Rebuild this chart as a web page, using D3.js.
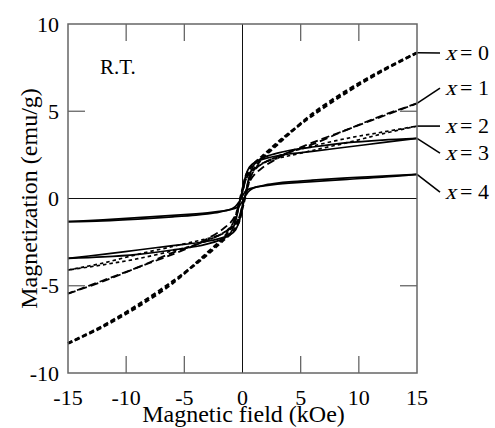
<html>
<head>
<meta charset="utf-8">
<script src="https://cdn.jsdelivr.net/npm/d3@7"></script>
</head>
<body style="margin:0;background:#fff">
<svg id="chart" width="495" height="428"></svg>
<script>
// field values (kOe) shared by every branch
const fieldKOe = [-15, -12, -9, -6, -4, -3, -2, -1.5, -1, -0.6, -0.3, 0, 0.3, 0.6, 1, 1.5, 2, 3, 4, 6, 9, 12, 15];

// magnetization (emu/g), ascending branch (field going up) and descending branch
const magX0Up   = [-8.3, -7.3, -6.1, -4.75, -3.75, -3.2, -2.6, -2.3, -2.0, -1.7, -1.3, -0.5, 0.3, 1.1, 1.7, 2.15, 2.5, 3.1, 3.7, 4.85, 6.2, 7.35, 8.35];
const magX0Down = [-8.3, -7.35, -6.2, -4.85, -3.7, -3.1, -2.5, -2.15, -1.7, -1.1, -0.3, 0.5, 1.3, 1.7, 2.0, 2.3, 2.6, 3.2, 3.75, 4.75, 6.1, 7.3, 8.35];
const magX1Up   = [-5.45, -4.75, -3.95, -3.1, -2.65, -2.4, -2.1, -1.9, -1.7, -1.45, -1.1, -0.4, 0.3, 0.95, 1.35, 1.65, 1.9, 2.3, 2.65, 3.2, 3.95, 4.7, 5.45];
const magX1Down = [-5.45, -4.7, -3.95, -3.2, -2.65, -2.3, -1.9, -1.65, -1.35, -0.95, -0.3, 0.4, 1.1, 1.45, 1.7, 1.9, 2.1, 2.4, 2.65, 3.1, 3.95, 4.75, 5.45];
const magX2Up   = [-4.1, -3.7, -3.2, -2.75, -2.45, -2.3, -2.1, -1.95, -1.75, -1.5, -1.1, -0.4, 0.35, 1.1, 1.6, 1.9, 2.1, 2.4, 2.65, 3.0, 3.45, 3.8, 4.15];
const magX2Down = [-4.1, -3.8, -3.45, -3.0, -2.65, -2.4, -2.1, -1.9, -1.6, -1.1, -0.35, 0.4, 1.1, 1.5, 1.75, 1.95, 2.1, 2.3, 2.45, 2.75, 3.2, 3.7, 4.15];
const magX3Up   = [-3.43, -3.2, -2.95, -2.7, -2.55, -2.45, -2.3, -2.2, -2.05, -1.8, -1.35, -0.5, 0.4, 1.3, 1.95, 2.25, 2.4, 2.6, 2.75, 2.95, 3.2, 3.35, 3.45];
const magX3Down = [-3.43, -3.35, -3.2, -2.95, -2.75, -2.6, -2.4, -2.25, -1.95, -1.3, -0.4, 0.5, 1.35, 1.8, 2.05, 2.2, 2.3, 2.45, 2.55, 2.7, 2.95, 3.2, 3.45];
const magX4Up   = [-1.33, -1.22, -1.1, -0.97, -0.88, -0.82, -0.74, -0.69, -0.62, -0.55, -0.45, -0.15, 0.2, 0.45, 0.62, 0.7, 0.78, 0.88, 0.95, 1.05, 1.18, 1.28, 1.38];
const magX4Down = [-1.33, -1.28, -1.18, -1.05, -0.95, -0.88, -0.78, -0.7, -0.62, -0.45, -0.2, 0.15, 0.45, 0.55, 0.62, 0.69, 0.74, 0.82, 0.88, 0.97, 1.1, 1.22, 1.38];

const seriesValues = ['0', '1', '2', '3', '4'];
const seriesUp = [magX0Up, magX1Up, magX2Up, magX3Up, magX4Up];
const seriesDown = [magX0Down, magX1Down, magX2Down, magX3Down, magX4Down];
// where each label sits, in emu/g
const labelMag = [8.34, 6.33, 4.15, 2.6, 0.37];

const xTicks = [-15, -10, -5, 0, 5, 10, 15];
const yTicks = [-10, -5, 0, 5, 10];

const FONT = '"Liberation Serif"';
const svg = d3.select('#chart');
const x = d3.scaleLinear().domain([-15, 15]).range([68, 417]);
const y = d3.scaleLinear().domain([-10, 10]).range([373, 24]);

const styles = [
  { dash: '5,3', width: 2.6 },
  { dash: '8,4', width: 1.8 },
  { dash: '3.5,3', width: 1.7 },
  { dash: null, width: 1.7 },
  { dash: null, width: 1.7 }
];

// texts first (plain, no italic face requested)
svg.selectAll('text.xt').data(xTicks).join('text')
  .attr('class', 'xt')
  .attr('x', d => x(d)).attr('y', 405)
  .attr('font-size', 22)
  .style('font-family', FONT)
  .style('text-anchor', 'middle')
  .text(d => String(d));
svg.selectAll('text.yt').data(yTicks).join('text')
  .attr('class', 'yt')
  .attr('x', 59).attr('y', d => y(d) + 7.5)
  .attr('font-size', 22)
  .style('font-family', FONT)
  .style('text-anchor', 'end')
  .text(d => String(d));

svg.append('text')
  .attr('x', (x(-15) + x(15)) / 2 + 1).attr('y', 422)
  .attr('font-size', 24)
  .style('font-family', FONT)
  .style('text-anchor', 'middle')
  .text('Magnetic field (kOe)');
svg.append('text')
  .attr('transform', `translate(37,${y(0)}) rotate(-90)`)
  .attr('font-size', 24)
  .style('font-family', FONT)
  .style('text-anchor', 'middle')
  .text('Magnetization (emu/g)');

svg.append('text')
  .attr('x', 100).attr('y', 74).attr('font-size', 21)
  .style('font-family', FONT)
  .text('R.T.');

// legend labels; the slanted x is a skewed upright glyph
seriesValues.forEach((val, i) => {
  const yLab = y(labelMag[i]);
  svg.append('text')
    .attr('transform', `translate(${x(15) + 28},${yLab + 7}) skewX(-14)`)
    .attr('font-size', 22)
    .style('font-family', FONT)
    .text('x');
  svg.append('text')
    .attr('x', x(15) + 43).attr('y', yLab + 7)
    .attr('font-size', 22)
    .style('font-family', FONT)
    .text('= ' + val);
});

// zero lines
svg.append('line')
  .attr('x1', x(-15)).attr('x2', x(15)).attr('y1', y(0)).attr('y2', y(0))
  .attr('stroke', '#111').attr('stroke-width', 1);
svg.append('line')
  .attr('x1', x(0)).attr('x2', x(0)).attr('y1', y(-10)).attr('y2', y(10))
  .attr('stroke', '#111').attr('stroke-width', 1);

// inner ticks on all four sides
const tickLen = 17;
const frameColor = '#666';
xTicks.filter(v => v !== 0 && Math.abs(v) !== 15).forEach(v => {
  svg.append('line').attr('x1', x(v)).attr('x2', x(v)).attr('y1', y(-10)).attr('y2', y(-10) - tickLen)
    .attr('stroke', frameColor).attr('stroke-width', 1.3);
  svg.append('line').attr('x1', x(v)).attr('x2', x(v)).attr('y1', y(10)).attr('y2', y(10) + tickLen)
    .attr('stroke', frameColor).attr('stroke-width', 1.3);
});
yTicks.filter(v => v !== 0 && Math.abs(v) !== 10).forEach(v => {
  svg.append('line').attr('x1', x(-15)).attr('x2', x(-15) + tickLen).attr('y1', y(v)).attr('y2', y(v))
    .attr('stroke', frameColor).attr('stroke-width', 1.3);
  svg.append('line').attr('x1', x(15)).attr('x2', x(15) - tickLen).attr('y1', y(v)).attr('y2', y(v))
    .attr('stroke', frameColor).attr('stroke-width', 1.3);
});

// curves
const lineGen = d3.line()
  .x(d => x(d[0]))
  .y(d => y(d[1]))
  .curve(d3.curveCatmullRom.alpha(0.5));

seriesUp.forEach((up, i) => {
  const ptsUp = fieldKOe.map((h, k) => [h, up[k]]);
  const ptsDown = fieldKOe.map((h, k) => [h, seriesDown[i][k]]).reverse();
  [ptsUp, ptsDown].forEach(pts => {
    const p = svg.append('path')
      .attr('d', lineGen(pts))
      .attr('fill', 'none')
      .attr('stroke', '#000')
      .attr('stroke-width', styles[i].width);
    if (styles[i].dash) p.attr('stroke-dasharray', styles[i].dash);
  });
  // leader from curve end to its label
  svg.append('line')
    .attr('x1', x(15)).attr('y1', y(up[up.length - 1]))
    .attr('x2', x(15) + 23).attr('y2', y(labelMag[i]))
    .attr('stroke', '#000').attr('stroke-width', 1.6);
});

// frame
svg.append('rect')
  .attr('x', x(-15)).attr('y', y(10))
  .attr('width', x(15) - x(-15)).attr('height', y(-10) - y(10))
  .attr('fill', 'none').attr('stroke', frameColor).attr('stroke-width', 1.5);
</script>
</body>
</html>
